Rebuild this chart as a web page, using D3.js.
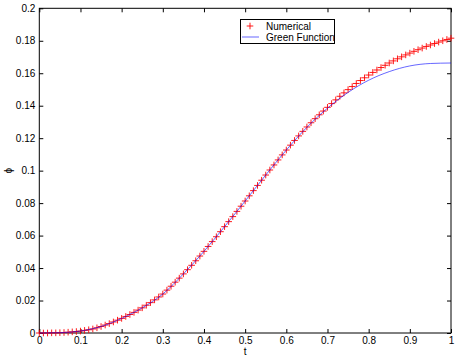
<!DOCTYPE html>
<html>
<head>
<meta charset="utf-8">
<script src="https://cdn.jsdelivr.net/npm/d3@7"></script>
<style>
  body { margin: 0; background: #fff; }
  svg text { font-family: "Liberation Sans", Arial, sans-serif; font-size: 10px; fill: #000; }
</style>
</head>
<body>
<div id="chart"></div>
<script>
// numerical solution, sampled every 0.01 in t
var tNum = d3.range(0, 101).map(function(i) { return i / 100; });
var phiNum = [
  0.0000, 0.0000, 0.0000, 0.0001, 0.0001, 0.0002, 0.0003, 0.0005, 0.0007, 0.0009,
  0.0012, 0.0016, 0.0020, 0.0025, 0.0032, 0.0040, 0.0049, 0.0058, 0.0068, 0.0079,
  0.0090, 0.0102, 0.0114, 0.0127, 0.0141, 0.0155, 0.0171, 0.0187, 0.0204, 0.0222,
  0.0240, 0.0264, 0.0288, 0.0313, 0.0338, 0.0364, 0.0390, 0.0417, 0.0445, 0.0474,
  0.0503, 0.0533, 0.0563, 0.0593, 0.0624, 0.0655, 0.0686, 0.0717, 0.0749, 0.0781,
  0.0813, 0.0845, 0.0877, 0.0909, 0.0941, 0.0973, 0.1004, 0.1035, 0.1066, 0.1097,
  0.1127, 0.1157, 0.1186, 0.1214, 0.1242, 0.1269, 0.1295, 0.1320, 0.1344, 0.1367,
  0.1390, 0.1413, 0.1436, 0.1458, 0.1479, 0.1499, 0.1518, 0.1537, 0.1555, 0.1572,
  0.1589, 0.1605, 0.1620, 0.1635, 0.1649, 0.1663, 0.1676, 0.1689, 0.1701, 0.1713,
  0.1724, 0.1735, 0.1745, 0.1755, 0.1765, 0.1774, 0.1783, 0.1792, 0.1800, 0.1808,
  0.1816
];

// green function curve
var tGreen = [0, 0.05, 0.10, 0.15, 0.20, 0.25, 0.30, 0.35, 0.40, 0.45, 0.50,
              0.55, 0.60, 0.65, 0.70, 0.75, 0.80, 0.85, 0.90, 0.95, 1.00];
var phiGreen = [0, 0.0002, 0.0012, 0.0040, 0.0090, 0.0155, 0.0240, 0.0364, 0.0503, 0.0655, 0.0813,
                0.0973, 0.1127, 0.1267, 0.1385, 0.1482, 0.1557, 0.1610, 0.1645, 0.1660, 0.1663];

var xTicks = [0, 0.1, 0.2, 0.3, 0.4, 0.5, 0.6, 0.7, 0.8, 0.9, 1];
var yTicks = [0, 0.02, 0.04, 0.06, 0.08, 0.1, 0.12, 0.14, 0.16, 0.18, 0.2];
var legendLabels = ["Numerical", "Green Function"];

var width = 460, height = 359;
var margin = {top: 8.3, right: 9, bottom: 26, left: 39.3};
var w = width - margin.left - margin.right;
var h = height - margin.top - margin.bottom;

var svg = d3.select("#chart").append("svg")
  .attr("width", width)
  .attr("height", height);

var g = svg.append("g")
  .attr("transform", "translate(" + margin.left + "," + margin.top + ")");

var x = d3.scaleLinear().domain([0, 1]).range([0, w]);
var y = d3.scaleLinear().domain([0, 0.2]).range([h, 0]);

// axes, matlab style: inward ticks on all four sides
var fmt = function(d) { return d3.format("")(+d.toFixed(2)); };

function styleAxis(sel) {
  sel.select(".domain").remove();
  sel.selectAll(".tick line").attr("stroke", "#000");
}

g.append("g")
  .attr("transform", "translate(0," + h + ")")
  .call(d3.axisBottom(x).tickValues(xTicks).tickSize(-4).tickPadding(4).tickFormat(fmt))
  .call(styleAxis);
g.append("g")
  .call(d3.axisTop(x).tickValues(xTicks).tickSize(-4).tickFormat(""))
  .call(styleAxis);
g.append("g")
  .call(d3.axisLeft(y).tickValues(yTicks).tickSize(-4).tickPadding(4).tickFormat(fmt))
  .call(styleAxis);
g.append("g")
  .attr("transform", "translate(" + w + ",0)")
  .call(d3.axisRight(y).tickValues(yTicks).tickSize(-4).tickFormat(""))
  .call(styleAxis);

g.selectAll(".tick text").style("font-size", "10px").attr("fill", "#000");

// box
g.append("rect")
  .attr("x", 0).attr("y", 0)
  .attr("width", w).attr("height", h)
  .attr("fill", "none")
  .attr("stroke", "#000")
  .attr("stroke-width", 1);

// numerical markers
var numData = tNum.map(function(t, i) { return {t: t, v: phiNum[i]}; });
var ms = 3.3;
var plus = function(cx, cy) {
  return "M" + (cx - ms) + "," + cy + "H" + (cx + ms) + "M" + cx + "," + (cy - ms) + "V" + (cy + ms);
};
g.append("path")
  .attr("d", numData.map(function(d) { return plus(x(d.t), y(d.v)); }).join(""))
  .attr("fill", "none")
  .attr("stroke", "#ff0000")
  .attr("stroke-width", 0.9);

// green function line
var line = d3.line()
  .x(function(d, i) { return x(tGreen[i]); })
  .y(function(d) { return y(d); })
  .curve(d3.curveMonotoneX);

g.append("path")
  .datum(phiGreen)
  .attr("fill", "none")
  .attr("stroke", "#0000ff")
  .attr("stroke-width", 0.6)
  .attr("d", line);

// axis labels
svg.append("text")
  .attr("x", margin.left + x(0.5))
  .attr("y", 355)
  .attr("text-anchor", "middle")
  .text("t");

svg.append("text")
  .attr("transform", "translate(12," + (margin.top + y(0.1)) + ") rotate(-90)")
  .attr("text-anchor", "middle")
  .text("\u03D5");

// legend
var lg = svg.append("g").attr("transform", "translate(240,19)");
lg.append("rect")
  .attr("x", 0.5).attr("y", 0.5)
  .attr("width", 94).attr("height", 24)
  .attr("fill", "#fff")
  .attr("stroke", "#000");
lg.append("path")
  .attr("d", plus(10, 7))
  .attr("stroke", "#ff0000")
  .attr("stroke-width", 0.9);
lg.append("line")
  .attr("x1", 2).attr("x2", 19)
  .attr("y1", 18).attr("y2", 18)
  .attr("stroke", "#0000ff")
  .attr("stroke-width", 0.6);
lg.selectAll("text.leg")
  .data(legendLabels)
  .enter().append("text")
  .attr("class", "leg")
  .attr("x", 26)
  .attr("y", function(d, i) { return 10.5 + i * 11; })
  .style("font-size", "10px")
  .text(function(d) { return d; });
</script>
</body>
</html>
